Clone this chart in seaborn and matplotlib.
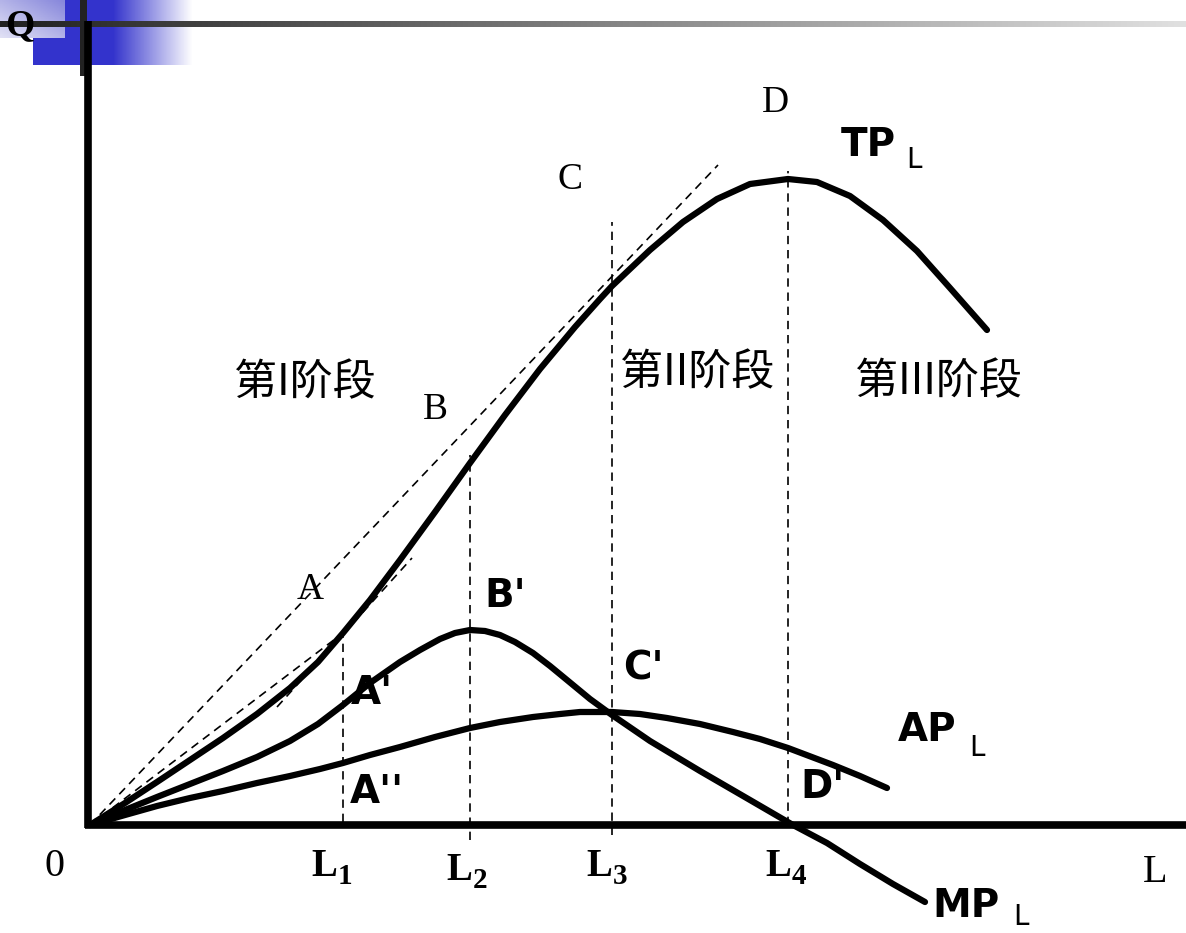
import numpy as np
import pandas as pd
import matplotlib
matplotlib.use('Agg')
import matplotlib.pyplot as plt
import seaborn as sns

tp_L = [0, 35, 67, 100, 133, 167, 200, 228, 253, 280, 310, 345, 380, 415, 450, 485,
        510, 522, 560, 593, 627, 660, 698, 727, 760, 793, 827, 860, 897]
tp_Q = [0, 22, 43, 65, 87, 111, 137, 163, 192, 225, 265, 313, 362, 410, 456, 498,
        526, 539, 575, 603, 626, 641, 646, 643, 629, 605, 574, 537, 495]

mp_L = [0, 35, 67, 100, 133, 167, 200, 228, 253, 280, 310, 330, 350, 365, 380, 395,
        410, 425, 443, 460, 477, 500, 522, 560, 610, 660, 703, 737, 770, 803, 835]
mp_Q = [0, 15, 28, 41, 54, 68, 84, 101, 120, 142, 163, 175, 186, 192, 195, 194,
        190, 183, 172, 159, 145, 126, 110, 84, 54, 25, 0, -18, -39, -59, -77]

ap_L = [0, 35, 67, 100, 133, 167, 200, 230, 253, 280, 310, 345, 380, 410, 443, 470,
        490, 522, 550, 577, 610, 643, 670, 698, 743, 770, 797]
ap_Q = [0, 10, 19, 27, 34, 42, 49, 56, 62, 70, 78, 88, 97, 103, 108, 111,
        113, 113, 111, 107, 101, 93, 86, 77, 60, 49, 37]

# dashed rays from the origin and the tangent at A
ray_C = ([0, 628], [0, 660])
ray_A = ([0, 253], [0, 192])
tan_A = ([187, 322], [118, 267])

stage_L = [253, 380, 522, 698]
stage_top = [192, 370, 603, 654]
stage_bottom = [3, -15, -10, 0]
stage_ticks = ['1', '2', '3', '4']

sns.set_style('white')
plt.rcParams['font.family'] = ['Noto Sans CJK SC', 'DejaVu Sans']
plt.rcParams['text.color'] = 'black'

fig = plt.figure(figsize=(11.86, 9.33), dpi=100)

# slide template decoration, in pixel space
bg = fig.add_axes([0, 0, 1, 1])
bg.set_xlim(0, 1186)
bg.set_ylim(933, 0)
bg.axis('off')

fade = np.ones((1, 160, 4))
fade[..., 0] = 0.20
fade[..., 1] = 0.20
fade[..., 2] = 0.80
fade[0, :, 3] = np.concatenate([np.ones(80), np.linspace(1, 0, 80)])
bg.imshow(fade, extent=(33, 193, 65, 0), aspect='auto', zorder=1)

yy, xx = np.mgrid[0:1:20j, 0:1:30j]
t = (xx + (1 - yy)) / 2
lav = np.zeros((20, 30, 3))
lav[..., 0] = 0.88 - 0.35 * t
lav[..., 1] = 0.88 - 0.35 * t
lav[..., 2] = 0.96 - 0.10 * t
bg.imshow(lav, extent=(0, 65, 38, 0), aspect='auto', zorder=2)

grey = np.zeros((1, 200, 3))
grey[0, :, :] = np.linspace(0.13, 0.88, 200)[:, None]
bg.imshow(grey, extent=(0, 1186, 27, 21), aspect='auto', zorder=3)
bg.fill_between([80, 87], 0, 76, color='#222222', zorder=3, lw=0)

ax = fig.add_axes([0, 0, 1, 1])
ax.patch.set_alpha(0)

# axes of the diagram
ax.plot([-2, -2], [-3, 804], color='black', lw=5.5, solid_capstyle='butt', zorder=5)
ax.plot([-5, 1096], [0, 0], color='black', lw=5.5, solid_capstyle='butt', zorder=5)

dash = dict(color='black', lw=1.2, ls=(0, (5, 3.5)), zorder=3)
for xs, ys in (ray_C, ray_A, tan_A):
    ax.plot(xs, ys, **dash)
for x, top, bot in zip(stage_L, stage_top, stage_bottom):
    ax.plot([x, x], [bot, top], **dash)

curves = [(tp_L, tp_Q), (mp_L, mp_Q), (ap_L, ap_Q)]
for xs, ys in curves:
    df = pd.DataFrame({'L': xs, 'Q': ys})
    sns.lineplot(data=df, x='L', y='Q', sort=False, estimator=None, ax=ax,
                 color='black', lw=4.5, zorder=4)
ax.set_xlim(-90, 1096)
ax.set_ylim(-108, 825)
ax.axis('off')

serif = ['Liberation Serif', 'DejaVu Serif']
hand = ['DejaVu Sans']


def px(x, y):
    return x - 90, 825 - y


ax.text(*px(20, 26), 'Q', family=serif, fontsize=27, fontweight='bold',
        ha='center', va='center', zorder=7)
for s, (x, y) in [('A', (310, 590)), ('B', (435, 410)),
                  ('C', (570, 180)), ('D', (775, 103))]:
    ax.text(*px(x, y), s, family=serif, fontsize=27, ha='center', va='center')
ax.text(*px(55, 866), '0', family=serif, fontsize=29, ha='center', va='center')
ax.text(*px(1155, 872), 'L', family=serif, fontsize=29, ha='center', va='center')

tick_px = [(324, 866), (459, 871), (599, 866), (778, 866)]
for s, (x, y) in zip(stage_ticks, tick_px):
    ax.text(*px(x, y), 'L', family=serif, fontsize=28, fontweight='bold',
            ha='center', va='center')
    ax.text(*px(x + 21, y + 10), s, family=serif, fontsize=21, fontweight='bold',
            ha='center', va='center')

for s, (x, y) in [('第I阶段', (305, 383)), ('第II阶段', (697, 373)), ('第III阶段', (938, 382))]:
    ax.text(*px(x, y), s, fontsize=31, ha='center', va='center')

for s, (x, y) in [('TP', (868, 145)), ('AP', (927, 730)), ('MP', (966, 906)),
                  ("B'", (505, 596)), ("C'", (643, 668)), ("A'", (372, 693)),
                  ("A''", (377, 792)), ("D'", (823, 787))]:
    ax.text(*px(x, y), s, family=hand, fontsize=28, fontweight='bold',
            ha='center', va='center', zorder=6)
for x, y in [(914, 160), (977, 748), (1021, 917)]:
    ax.text(*px(x, y), 'L', family=hand, fontsize=20,
            ha='center', va='center', zorder=6)

fig.savefig('out.png', dpi=100)
